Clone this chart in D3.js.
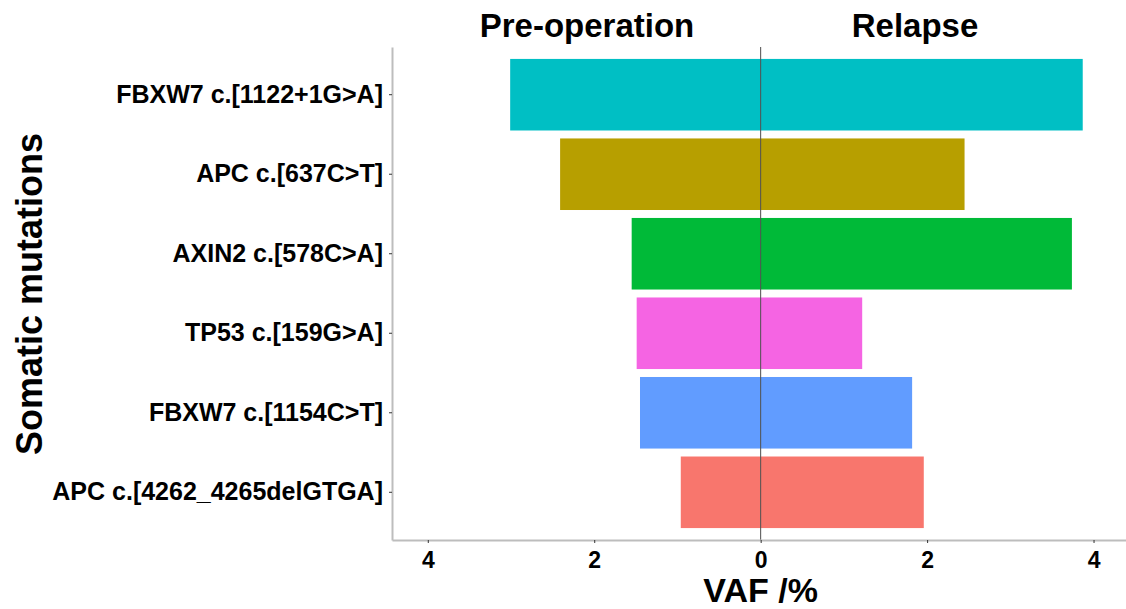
<!DOCTYPE html>
<html>

<head>
    <meta charset="UTF-8">
    <title>Somatic mutations VAF</title>
    <script src="https://d3js.org/d3.v7.min.js"></script>
    <style>
        body {
            margin: 0;
            background: #fff;
        }

        text {
            font-family: "Liberation Sans", Arial, sans-serif;
            font-weight: bold;
            fill: #000;
        }
    </style>
</head>

<body>
    <script>
        // mutations, top to bottom
        var mutations = ["FBXW7 c.[1122+1G>A]", "APC c.[637C>T]", "AXIN2 c.[578C>A]",
            "TP53 c.[159G>A]", "FBXW7 c.[1154C>T]", "APC c.[4262_4265delGTGA]"];
        var preOperation = [3.01, 2.41, 1.55, 1.49, 1.45, 0.96];
        var relapse = [3.87, 2.45, 3.74, 1.22, 1.82, 1.96];
        var colors = ["#00BFC4", "#B79F00", "#00BA38", "#F564E3", "#619CFF", "#F8766D"];
        var xTicks = [-4, -2, 0, 2, 4];

        var width = 1126;
        var height = 609;
        // panel edges
        var panelLeft = 392, panelRight = 1126, panelTop = 47, panelBottom = 540;

        var svg = d3.select("body").append("svg")
            .attr("width", width).attr("height", height);

        var x = d3.scaleLinear().domain([-4.43, 4.39]).range([panelLeft, panelRight]);
        var y = d3.scaleBand().domain(mutations).range([panelTop, panelBottom])
            .paddingInner(0.1).paddingOuter(0.15);

        // bars: pre-operation goes left, relapse goes right
        var rows = mutations.map(function (m, i) {
            return { name: m, pre: preOperation[i], rel: relapse[i], color: colors[i] };
        });

        svg.append("g").selectAll("rect").data(rows).enter().append("rect")
            .attr("x", function (d) { return x(-d.pre); })
            .attr("y", function (d) { return y(d.name); })
            .attr("width", function (d) { return x(0) - x(-d.pre); })
            .attr("height", y.bandwidth())
            .attr("fill", function (d) { return d.color; });

        svg.append("g").selectAll("rect").data(rows).enter().append("rect")
            .attr("x", x(0))
            .attr("y", function (d) { return y(d.name); })
            .attr("width", function (d) { return x(d.rel) - x(0); })
            .attr("height", y.bandwidth())
            .attr("fill", function (d) { return d.color; });

        // zero line
        svg.append("line")
            .attr("x1", x(0)).attr("x2", x(0))
            .attr("y1", panelTop).attr("y2", panelBottom)
            .attr("stroke", "#4d4d4d").attr("stroke-width", 1);

        // x axis
        var xAxis = d3.axisBottom(x).tickValues(xTicks)
            .tickFormat(function (d) { return Math.abs(d); })
            .tickSizeInner(3).tickSizeOuter(0).tickPadding(9);
        var gx = svg.append("g").attr("transform", "translate(0," + panelBottom + ")").call(xAxis);
        gx.select(".domain").attr("stroke", "#bdbdbd").attr("stroke-width", 2);
        gx.selectAll(".tick line").attr("stroke", "#333");
        gx.selectAll(".tick text").style("font-size", "23px");

        // y axis
        var yAxis = d3.axisLeft(y).tickSizeInner(3).tickSizeOuter(0).tickPadding(6);
        var gy = svg.append("g").attr("transform", "translate(" + panelLeft + ",0)").call(yAxis);
        gy.select(".domain").attr("stroke", "#bdbdbd").attr("stroke-width", 2);
        gy.selectAll(".tick line").attr("stroke", "#333");
        gy.selectAll(".tick text").style("font-size", "25px");

        // titles
        svg.append("text").attr("x", 587).attr("y", 37)
            .attr("text-anchor", "middle").style("font-size", "33px").text("Pre-operation");
        svg.append("text").attr("x", 915).attr("y", 37)
            .attr("text-anchor", "middle").style("font-size", "33px").text("Relapse");
        svg.append("text").attr("x", x(0)).attr("y", 602)
            .attr("text-anchor", "middle").style("font-size", "34px").text("VAF /%");
        svg.append("text")
            .attr("transform", "translate(42,294) rotate(-90)")
            .attr("text-anchor", "middle").style("font-size", "36px").text("Somatic mutations");
    </script>
</body>

</html>
